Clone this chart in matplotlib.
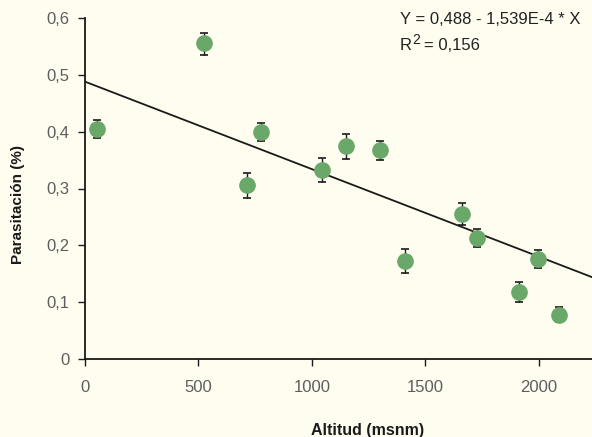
import matplotlib
matplotlib.use("Agg")
import matplotlib.pyplot as plt
import numpy as np

altitude = [55, 525, 715, 775, 1045, 1150, 1300, 1410, 1660, 1730, 1915, 1995, 2090]
parasitism = [0.404, 0.556, 0.306, 0.400, 0.333, 0.374, 0.367, 0.173, 0.256, 0.213, 0.118, 0.176, 0.078]
err_lo = [0.016, 0.021, 0.022, 0.016, 0.021, 0.022, 0.016, 0.021, 0.020, 0.016, 0.017, 0.016, 0.013]
err_hi = [0.016, 0.018, 0.022, 0.016, 0.021, 0.022, 0.016, 0.021, 0.018, 0.016, 0.017, 0.016, 0.013]
intercept = 0.488
slope = -1.539e-4
x_ticks = [0, 500, 1000, 1500, 2000]
x_ticklabels = ["0", "500", "1000", "1500", "2000"]
y_ticks = [0, 0.1, 0.2, 0.3, 0.4, 0.5, 0.6]
y_ticklabels = ["0", "0,1", "0,2", "0,3", "0,4", "0,5", "0,6"]

plt.rcParams['font.family'] = ['Liberation Sans', 'DejaVu Sans']
bg = '#fffcf0'
fig = plt.figure(figsize=(5.92, 4.37), dpi=100, facecolor=bg)
ax = fig.add_axes([85/592, 1-359/437, (592-85)/592, (359-18)/437])
ax.set_facecolor(bg)

xmax = 2235
xl = np.array([0, xmax])
ax.plot(xl, intercept + slope*xl, color='#1a1a1a', lw=1.3, zorder=2)

ax.errorbar(altitude, parasitism, yerr=[err_lo, err_hi], fmt='none',
            ecolor='#1a1a1a', elinewidth=1.0, capsize=3, capthick=1.2, zorder=3)
ax.plot(altitude, parasitism, 'o', ms=11, color='#6aa86a', mec='#6aa86a', zorder=4)

ax.set_xlim(0, xmax)
ax.set_ylim(0, 0.6)
ax.set_xticks(x_ticks)
ax.set_xticklabels(x_ticklabels)
ax.set_yticks(y_ticks)
ax.set_yticklabels(y_ticklabels)
for s in ['top', 'right']:
    ax.spines[s].set_visible(False)
for s in ['left', 'bottom']:
    ax.spines[s].set_color('#1a1a1a')
    ax.spines[s].set_linewidth(1.3)
ax.tick_params(axis='y', direction='out', length=5, width=1, color='#1a1a1a',
               labelsize=12, labelcolor='#5e5e5e', pad=6)
ax.tick_params(axis='x', direction='out', length=5, width=1, color='#1a1a1a',
               labelsize=12, labelcolor='#5e5e5e', pad=10)

fig.text(368/592, 1-430/437, "Altitud (msnm)", ha='center', va='center',
         fontsize=11.5, fontweight='bold', color='#1a1a1a')
fig.text(18/592, 1-205/437, "Parasitación (%)", ha='center', va='center',
         rotation=90, fontsize=11, fontweight='bold', color='#1a1a1a')

fig.text(400/592, 1-20/437, "Y = 0,488 - 1,539E-4 * X",
         ha='left', va='center', fontsize=12, color='#222222')
fig.text(400/592, 1-46/437, "R", ha='left', va='center', fontsize=12, color='#222222')
fig.text(412/592, 1-40/437, "2", ha='left', va='center', fontsize=10, color='#222222')
fig.text(424/592, 1-46/437, "= 0,156", ha='left', va='center', fontsize=12, color='#222222')

fig.savefig("out.png", dpi=100, facecolor=bg)
